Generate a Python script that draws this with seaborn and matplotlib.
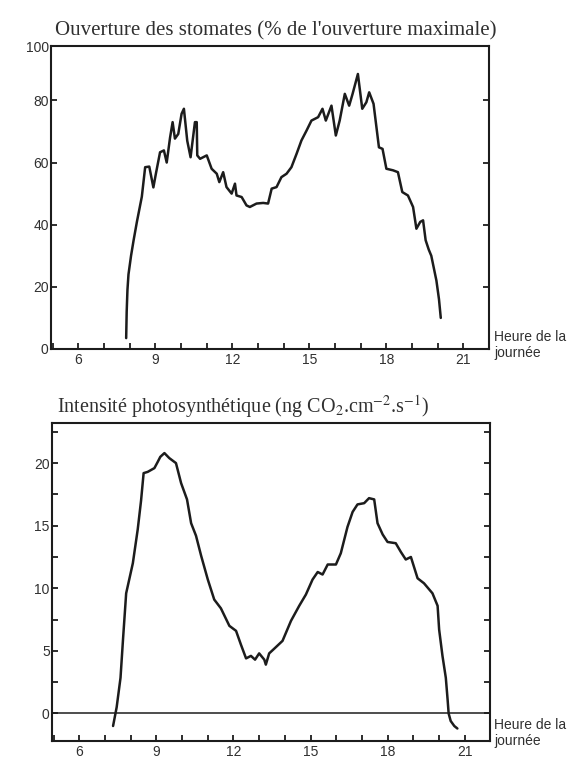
import numpy as np
import pandas as pd
import seaborn as sns
import matplotlib.pyplot as plt
from matplotlib.ticker import MultipleLocator

# ouverture des stomates (% de l'ouverture maximale)
stom_heure = [7.86, 7.88, 7.91, 7.95, 8.05, 8.15, 8.28, 8.47, 8.6, 8.76, 8.92, 9.02,
              9.18, 9.33, 9.44, 9.57, 9.67, 9.76, 9.89, 10.02, 10.11, 10.24, 10.37,
              10.54, 10.61, 10.63, 10.74, 11.0, 11.19, 11.39, 11.49, 11.64, 11.77,
              11.97, 12.1, 12.16, 12.36, 12.55, 12.68, 12.94, 13.2, 13.39, 13.53,
              13.72, 13.91, 14.11, 14.3, 14.5, 14.69, 14.89, 15.08, 15.34, 15.51,
              15.64, 15.86, 16.03, 16.18, 16.38, 16.55, 16.68, 16.89, 17.06, 17.22,
              17.33, 17.5, 17.71, 17.85, 18.0, 18.26, 18.45, 18.62, 18.84, 19.04,
              19.17, 19.32, 19.43, 19.53, 19.65, 19.75, 19.85, 19.95, 20.05, 20.12]
stom_pct = [3.5, 12, 19, 24, 30, 35, 41, 49, 58.5, 58.7, 52, 56.5,
            63.3, 63.9, 60, 68, 73, 67.7, 69.2, 75.7, 77.3, 67, 61.7,
            73, 73, 62.3, 61.2, 62.3, 58, 56.4, 53.7, 56.9, 52.1,
            50, 53.2, 49.4, 48.9, 46.2, 45.7, 46.8, 47, 46.8, 51.6,
            52.1, 55.3, 56.4, 58.5, 62.8, 67.1, 70.3, 73.5, 74.6, 77.3,
            73.5, 78.3, 68.7, 73.5, 82.1, 78.3, 82, 88.5, 77.3, 79.4,
            82.6, 78.9, 64.9, 64.4, 58, 57.5, 56.9, 50.5, 49.4, 45.7,
            38.7, 40.9, 41.4, 35, 32, 30, 26, 22, 16, 10]

# intensite photosynthetique (ng CO2.cm-2.s-1)
photo_heure = [7.31, 7.45, 7.6, 7.7, 7.82, 8.08, 8.27, 8.4, 8.5, 8.66, 8.92, 9.05,
               9.15, 9.31, 9.5, 9.76, 9.96, 10.19, 10.35, 10.54, 10.74, 11.0, 11.25,
               11.51, 11.84, 12.1, 12.29, 12.49, 12.68, 12.84, 13.0, 13.2, 13.26,
               13.39, 13.6, 13.91, 14.24, 14.56, 14.82, 15.08, 15.28, 15.47, 15.67,
               15.99, 16.18, 16.44, 16.64, 16.83, 17.09, 17.28, 17.48, 17.61, 17.81,
               18.0, 18.32, 18.52, 18.71, 18.91, 19.17, 19.42, 19.75, 19.95, 20.01,
               20.14, 20.27, 20.34, 20.38, 20.46, 20.6, 20.72]
photo_val = [-1.0, 0.5, 2.85, 6, 9.6, 12, 14.7, 17, 19.2, 19.3, 19.6, 20.1,
             20.5, 20.8, 20.4, 20.0, 18.4, 17.1, 15.2, 14.2, 12.6, 10.7, 9.1,
             8.4, 7.0, 6.6, 5.5, 4.4, 4.6, 4.3, 4.8, 4.3, 3.9,
             4.8, 5.2, 5.8, 7.4, 8.6, 9.5, 10.7, 11.3, 11.1, 11.9,
             11.9, 12.8, 14.9, 16.1, 16.7, 16.8, 17.2, 17.1, 15.2, 14.3,
             13.7, 13.6, 12.9, 12.3, 12.5, 10.8, 10.4, 9.6, 8.6, 6.7,
             4.6, 2.85, 1.1, 0, -0.6, -1.0, -1.2]

x_ticks = [6, 9, 12, 15, 18, 21]
ink = "#1c1c1c"
txt = "#303030"

sns.set_style("ticks")
plt.rcParams['font.family'] = ['Liberation Sans', 'DejaVu Sans']
plt.rcParams['mathtext.fontset'] = 'stix'

fig = plt.figure(figsize=(5.76, 7.58), dpi=100)
ax1 = fig.add_axes([0.0894, 0.5396, 0.7596, 0.3997])
ax2 = fig.add_axes([0.0911, 0.0224, 0.7600, 0.4195])

df1 = pd.DataFrame({"heure": stom_heure, "val": stom_pct})
df2 = pd.DataFrame({"heure": photo_heure, "val": photo_val})
sns.lineplot(data=df1, x="heure", y="val", ax=ax1, color=ink, lw=1.8, estimator=None)
sns.lineplot(data=df2, x="heure", y="val", ax=ax2, color=ink, lw=1.8, estimator=None)
ax2.axhline(0, color=ink, lw=1.1)

for ax in (ax1, ax2):
    ax.set_xlim(4.95, 22.0)
    ax.set_xlabel("")
    ax.set_ylabel("")
    for s in ax.spines.values():
        s.set_visible(True)
        s.set_linewidth(1.5)
        s.set_color(ink)
    ax.set_xticks(x_ticks)
    ax.set_xticklabels([str(t) for t in x_ticks])
    ax.xaxis.set_minor_locator(MultipleLocator(1))
    ax.tick_params(axis="x", which="both", direction="in", top=False,
                   length=4, width=1.3, color=ink, labelsize=10, labelcolor=txt, pad=3)
    ax.tick_params(axis="y", which="both", direction="in", left=True, right=True,
                   length=4, width=1.3, color=ink, labelsize=10, labelcolor=txt, pad=2)

# haut : le cadre s'arrete un peu sous 100 dans l'original
ax1.set_ylim(0, 97.5)
ax1.set_yticks([0, 20, 40, 60, 80, 97.5])
ax1.set_yticklabels(["0", "20", "40", "60", "80", "100"])

ax2.set_ylim(-2.2, 23.2)
ax2.set_yticks([0, 5, 10, 15, 20])
ax2.yaxis.set_minor_locator(MultipleLocator(2.5))

fig.text(55 / 576, 1 - 31 / 758, "Ouverture des stomates (% de l'ouverture maximale)",
         family="Liberation Serif", fontsize=15, color=txt, va="center", ha="left")
fig.text(57 / 576, 1 - 407 / 758,
         "Intensité photosynthétique (ng CO$_2$.cm$^{-2}$.s$^{-1}$)",
         family="Liberation Serif", fontsize=14.5, color=txt, va="center", ha="left")

for ytop in (330, 718):
    fig.text(494 / 576, 1 - ytop / 758, "Heure de la\njournée", fontsize=10,
             color=txt, va="top", ha="left", linespacing=1.15)

fig.savefig("out.png", dpi=100, facecolor="white")
